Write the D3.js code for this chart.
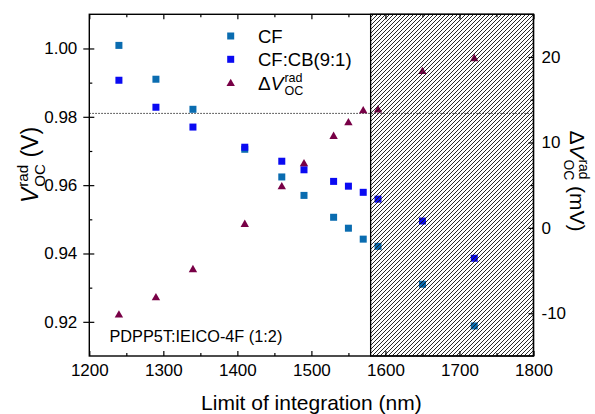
<!DOCTYPE html>
<html>
<head>
<meta charset="utf-8">
<script src="https://cdn.jsdelivr.net/npm/d3@7"></script>
<style>
  html, body { margin: 0; padding: 0; background: #fff; }
  svg { display: block; }
  text { font-family: "Liberation Sans", Arial, Helvetica, sans-serif; fill: #000; }
</style>
</head>
<body>
<svg id="chart" width="595" height="414"></svg>
<script>
// ---- data ----
const wavelengths = [1240, 1290, 1340, 1410, 1460, 1490, 1530, 1550, 1570, 1590, 1650, 1720];
const vocCF   = [1.0009, 0.9910, 0.9822, 0.9705, 0.9624, 0.9570, 0.9506, 0.9474, 0.9442, 0.9421, 0.9310, 0.9188];
const vocCFCB = [0.9907, 0.9828, 0.9770, 0.9711, 0.9670, 0.9645, 0.9611, 0.9597, 0.9579, 0.9559, 0.9495, 0.9386];
const deltaVoc = [-10.1, -8.1, -4.8, 0.5, 4.9, 7.6, 10.8, 12.4, 13.8, 13.9, 18.4, 19.9];
const xTicks = [1200, 1300, 1400, 1500, 1600, 1700, 1800];
const xMinorTicks = [1250, 1350, 1450, 1550, 1650, 1750];
const yLeftTicks = [0.92, 0.94, 0.96, 0.98, 1.00];
const yLeftMinorTicks = [0.93, 0.95, 0.97, 0.99];
const yRightTicks = [-10, 0, 10, 20];
const yRightMinorTicks = [-5, 5, 15];
const referenceVoc = 0.981;
const hatchStart = 1580;
const sampleLabel = "PDPP5T:IEICO-4F (1:2)";
const legendNames = ["CF", "CF:CB(9:1)"];

// ---- layout ----
const L = 89.3, R = 533.5, T = 14.3, B = 356;
const colCF = "#0a6cb0", colCFCB = "#0a0af2", colD = "#780046";

const svg = d3.select("#chart");
const x = d3.scaleLinear().domain([1200, 1800]).range([L, R]);
const yL = d3.scaleLinear().domain([0.91, 1.01]).range([B, T]);
const yR = d3.scaleLinear().domain([-15, 25]).range([B, T]);

// hatch pattern
const defs = svg.append("defs");
const pat = defs.append("pattern").attr("id", "hatch").attr("patternUnits", "userSpaceOnUse")
  .attr("width", 4).attr("height", 4);
pat.append("path").attr("d", "M-1,1 l2,-2 M0,4 l4,-4 M3,5 l2,-2")
  .attr("stroke", "#111").attr("stroke-width", 0.9);

// dotted reference line
svg.append("line").attr("x1", L).attr("x2", R)
  .attr("y1", yL(referenceVoc)).attr("y2", yL(referenceVoc))
  .attr("stroke", "#333").attr("stroke-width", 1).attr("stroke-dasharray", "1.5,1.5");

// markers
const sq = 7;
svg.append("g").selectAll("rect").data(wavelengths.map((w, i) => [w, vocCF[i]])).join("rect")
  .attr("x", d => x(d[0]) - sq / 2).attr("y", d => yL(d[1]) - sq / 2)
  .attr("width", sq).attr("height", sq).attr("fill", colCF);
svg.append("g").selectAll("rect").data(wavelengths.map((w, i) => [w, vocCFCB[i]])).join("rect")
  .attr("x", d => x(d[0]) - sq / 2).attr("y", d => yL(d[1]) - sq / 2)
  .attr("width", sq).attr("height", sq).attr("fill", colCFCB);
const tri = (cx, cy) => `M${cx},${cy - 4}L${cx + 4.2},${cy + 3.3}L${cx - 4.2},${cy + 3.3}Z`;
svg.append("g").selectAll("path").data(wavelengths.map((w, i) => [w, deltaVoc[i]])).join("path")
  .attr("d", d => tri(x(d[0]), yR(d[1]))).attr("fill", colD);

// hatched region on top
svg.append("rect").attr("x", x(hatchStart)).attr("y", T)
  .attr("width", x(1800) - x(hatchStart)).attr("height", B - T)
  .attr("fill", "url(#hatch)").attr("stroke", "#000").attr("stroke-width", 1.3);

// axes
const fsTick = 17;
function styleAxis(g) {
  g.select(".domain").remove();
  g.selectAll(".tick line").attr("stroke", "#000").attr("stroke-width", 1.2);
  g.selectAll(".tick text").style("font-size", fsTick + "px")
    .style("font-family", "'Liberation Sans', Arial, sans-serif");
}
const hyphenFmt = d => String(d);
svg.append("g").attr("transform", `translate(0,${B})`)
  .call(d3.axisBottom(x).tickValues(xTicks).tickFormat(d3.format("d")).tickSizeInner(-5).tickSizeOuter(0).tickPadding(8))
  .call(styleAxis);
svg.append("g").attr("transform", `translate(0,${B})`)
  .call(d3.axisBottom(x).tickValues(xMinorTicks).tickFormat("").tickSizeInner(-3).tickSizeOuter(0))
  .call(styleAxis);
svg.append("g").attr("transform", `translate(0,${T})`)
  .call(d3.axisTop(x).tickValues(xTicks).tickFormat("").tickSizeInner(-5).tickSizeOuter(0))
  .call(styleAxis);
svg.append("g").attr("transform", `translate(0,${T})`)
  .call(d3.axisTop(x).tickValues(xMinorTicks).tickFormat("").tickSizeInner(-3).tickSizeOuter(0))
  .call(styleAxis);
svg.append("g").attr("transform", `translate(${L},0)`)
  .call(d3.axisLeft(yL).tickValues(yLeftTicks).tickFormat(d3.format(".2f")).tickSizeInner(6).tickSizeOuter(0).tickPadding(6))
  .call(styleAxis);
svg.append("g").attr("transform", `translate(${L},0)`)
  .call(d3.axisLeft(yL).tickValues(yLeftTicks).tickFormat("").tickSizeInner(-5).tickSizeOuter(0))
  .call(styleAxis);
svg.append("g").attr("transform", `translate(${L},0)`)
  .call(d3.axisLeft(yL).tickValues(yLeftMinorTicks).tickFormat("").tickSizeInner(-3).tickSizeOuter(0))
  .call(styleAxis);
svg.append("g").attr("transform", `translate(${R},0)`)
  .call(d3.axisRight(yR).tickValues(yRightTicks).tickFormat(hyphenFmt).tickSizeInner(-5).tickSizeOuter(0).tickPadding(8))
  .call(styleAxis);
svg.append("g").attr("transform", `translate(${R},0)`)
  .call(d3.axisRight(yR).tickValues(yRightMinorTicks).tickFormat("").tickSizeInner(-3).tickSizeOuter(0))
  .call(styleAxis);

// frame
svg.append("rect").attr("x", L).attr("y", T).attr("width", R - L).attr("height", B - T)
  .attr("fill", "none").attr("stroke", "#000").attr("stroke-width", 1.4);

// rich label: [Δ]V with stacked rad/OC, optional suffix
function richLabel(g, delta, fs, suffix) {
  const main = g.append("text").style("font-size", fs + "px");
  if (delta) main.append("tspan").text("Δ");
  main.append("tspan").style("font-style", "italic").text("V");
  const w = main.node().getComputedTextLength() + 1;
  const sfs = fs * 0.66;
  const sup = g.append("text").attr("x", w).attr("y", -fs * 0.42).style("font-size", sfs + "px").text("rad");
  const sub = g.append("text").attr("x", w).attr("y", fs * 0.3).style("font-size", sfs + "px").text("OC");
  let total = w + Math.max(sup.node().getComputedTextLength(), sub.node().getComputedTextLength());
  if (suffix) {
    const s = g.append("text").attr("x", total + fs * 0.28).style("font-size", fs + "px").text(suffix);
    total += fs * 0.28 + s.node().getComputedTextLength();
  }
  return total;
}

// x axis title
svg.append("text").attr("x", (L + R) / 2).attr("y", 410).attr("text-anchor", "middle")
  .style("font-size", "21px").text("Limit of integration (nm)");

// left axis title
{
  const g = svg.append("g");
  const w = richLabel(g, false, 23, "(V)");
  g.attr("transform", `translate(38,${165 + w / 2}) rotate(-90)`);
}
// right axis title
{
  const g = svg.append("g");
  const w = richLabel(g, true, 21, "(mV)");
  g.attr("transform", `translate(570,${181 - w / 2}) rotate(90)`);
}

// legend
const lx = 230.7, ltx = 258;
const legendRows = [36, 59.3, 82.7];
svg.append("rect").attr("x", lx - sq / 2).attr("y", legendRows[0] - sq / 2).attr("width", sq).attr("height", sq).attr("fill", colCF);
svg.append("rect").attr("x", lx - sq / 2).attr("y", legendRows[1] - sq / 2).attr("width", sq).attr("height", sq).attr("fill", colCFCB);
svg.append("path").attr("d", tri(lx, legendRows[2])).attr("fill", colD);
svg.append("text").attr("x", ltx).attr("y", legendRows[0] + 6.5).style("font-size", "18.5px").text(legendNames[0]);
svg.append("text").attr("x", ltx).attr("y", legendRows[1] + 6.5).style("font-size", "18.5px").text(legendNames[1]);
{
  const g = svg.append("g").attr("transform", `translate(${ltx},${legendRows[2] + 7})`);
  richLabel(g, true, 19, null);
}

// sample label
svg.append("text").attr("x", 109.5).attr("y", 342).style("font-size", "16.3px").text(sampleLabel);
</script>
</body>
</html>
